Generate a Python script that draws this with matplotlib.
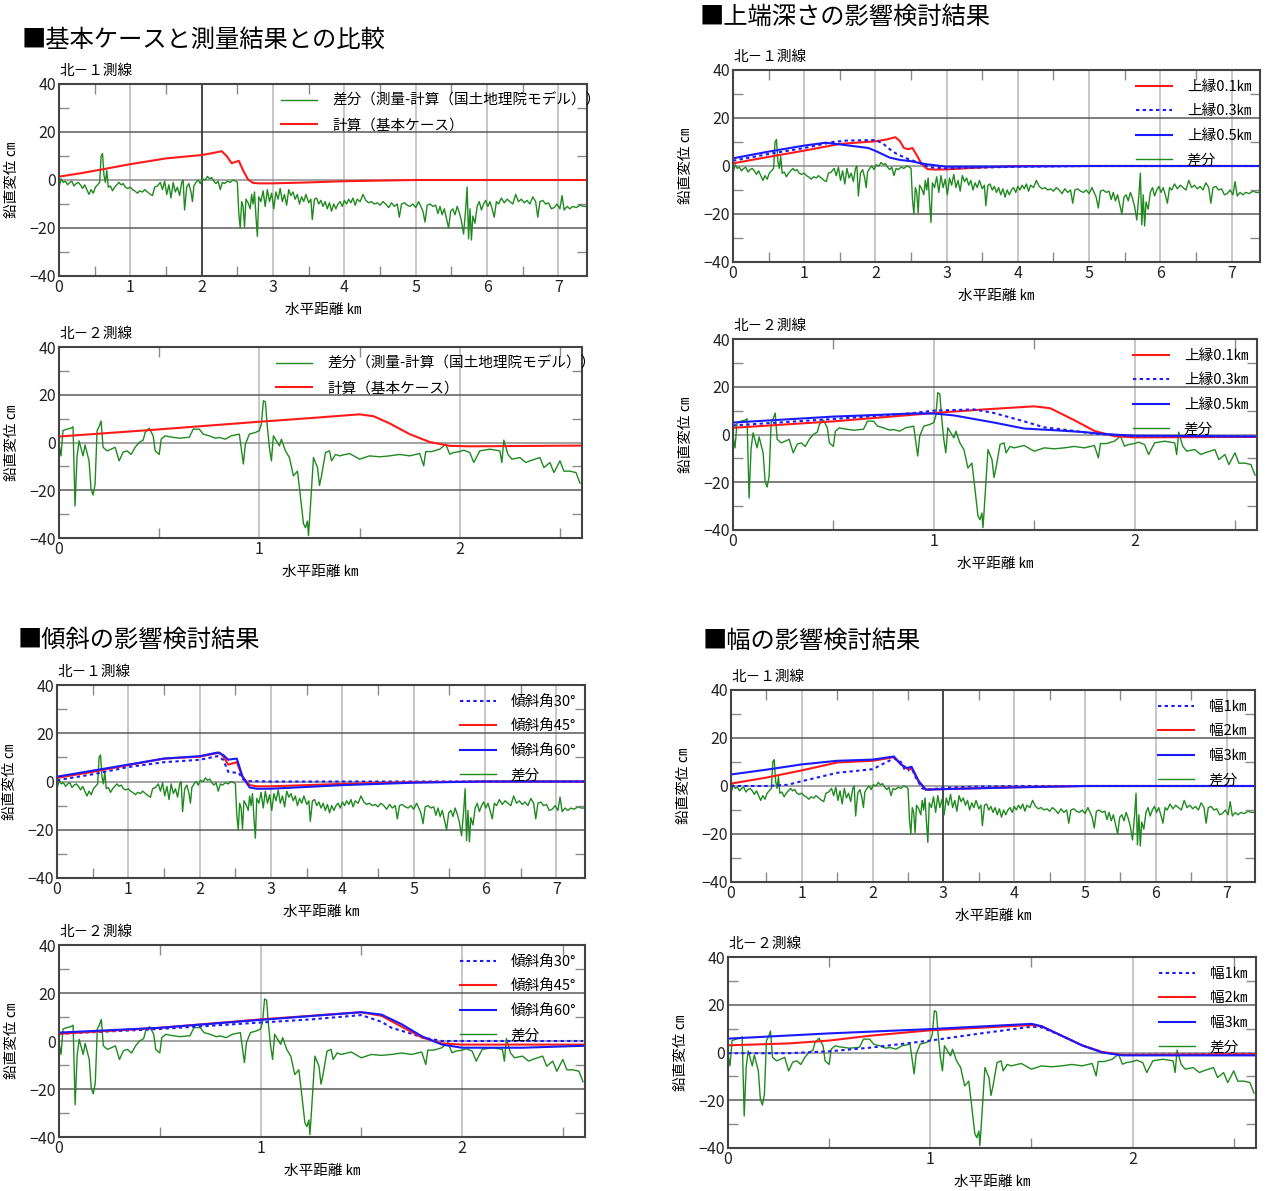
import numpy as np
import matplotlib
matplotlib.use("Agg")
import matplotlib.pyplot as plt

JP = ["Noto Sans CJK JP", "DejaVu Sans"]
plt.rcParams["font.family"] = JP

W, H = 1266, 1191

# ---------------- residual (survey - model), line N1 ----------------
N1_DIFF_KM = [0.00, 0.03, 0.06, 0.09, 0.12, 0.15, 0.18, 0.21, 0.24, 0.27, 0.30, 0.33, 0.36, 0.39, 0.42, 0.45,
              0.48, 0.51, 0.54, 0.57, 0.59, 0.61, 0.63, 0.65, 0.67, 0.69, 0.72, 0.75, 0.78, 0.81, 0.84, 0.87,
              0.90, 0.93, 0.96, 1.00, 1.03, 1.06, 1.10, 1.13, 1.17, 1.20, 1.24, 1.28, 1.31, 1.34, 1.38, 1.42,
              1.45, 1.48, 1.51, 1.54, 1.57, 1.60, 1.63, 1.66, 1.69, 1.72, 1.74, 1.76, 1.79, 1.82, 1.85, 1.87,
              1.89, 1.92, 1.95, 1.98, 2.01, 2.05, 2.08, 2.11, 2.14, 2.17, 2.20, 2.23, 2.26, 2.29, 2.32, 2.36,
              2.40, 2.44, 2.48, 2.50, 2.52, 2.54, 2.56, 2.58, 2.60, 2.62, 2.65, 2.68, 2.70, 2.72, 2.74, 2.76,
              2.78, 2.80, 2.83, 2.86, 2.89, 2.92, 2.95, 2.98, 3.01, 3.04, 3.07, 3.10, 3.13, 3.16, 3.19, 3.22,
              3.25, 3.28, 3.31, 3.34, 3.37, 3.40, 3.43, 3.46, 3.50, 3.53, 3.55, 3.58, 3.61, 3.64, 3.67, 3.70,
              3.73, 3.76, 3.79, 3.82, 3.85, 3.88, 3.91, 3.94, 3.97, 4.00, 4.03, 4.06, 4.09, 4.12, 4.15, 4.18,
              4.22, 4.26, 4.30, 4.34, 4.38, 4.42, 4.46, 4.50, 4.54, 4.58, 4.62, 4.66, 4.70, 4.74, 4.77, 4.80,
              4.84, 4.88, 4.92, 4.96, 5.00, 5.04, 5.07, 5.10, 5.13, 5.16, 5.20, 5.24, 5.28, 5.31, 5.34, 5.37,
              5.40, 5.43, 5.46, 5.49, 5.52, 5.55, 5.58, 5.61, 5.64, 5.67, 5.70, 5.72, 5.74, 5.76, 5.78, 5.80,
              5.83, 5.86, 5.89, 5.92, 5.95, 5.98, 6.01, 6.04, 6.07, 6.10, 6.13, 6.16, 6.20, 6.24, 6.28, 6.32,
              6.36, 6.40, 6.44, 6.48, 6.52, 6.56, 6.60, 6.64, 6.68, 6.71, 6.74, 6.78, 6.82, 6.86, 6.90, 6.94,
              6.98, 7.02, 7.05, 7.08, 7.12, 7.16, 7.20, 7.25, 7.30, 7.35, 7.40]
N1_DIFF_CM = [-3.0, 0.5, -1.0, -0.5, -2.0, -1.0, -0.5, -2.5, -1.5, -1.0, -2.0, -3.5, -2.0, -4.0, -6.0, -4.0,
              -5.5, -3.0, -2.0, -1.0, 10.0, 11.0, 2.0, -1.0, 4.0, -3.0, -2.5, -4.5, -3.0, -2.0, -1.0, -2.0,
              -1.5, -3.0, -3.5, -3.0, -4.0, -4.5, -5.5, -4.5, -5.0, -4.0, -5.0, -6.0, -6.5, -3.0, -2.5, -1.0,
              -4.0, -0.5, -6.0, -2.0, -7.5, -1.0, -5.0, -3.0, -6.5, -1.0, 0.0, -12.5, -3.0, -1.5, -5.0, -9.0,
              -2.5, -1.0, 0.0, -1.5, 0.5, 0.0, 1.5, 0.5, 1.0, -0.5, -1.5, -0.5, -4.0, -1.0, -1.5, -0.5,
              -1.0, 0.0, -0.5, -1.0, -14.0, -20.0, -9.0, -11.0, -19.5, -8.0, -9.5, -12.0, -6.0, -10.0, -5.0, -15.0,
              -23.5, -7.0, -9.0, -4.5, -11.0, -4.0, -9.0, -5.5, -12.0, -5.0, -8.0, -3.5, -9.0, -6.0, -10.5, -4.0,
              -6.5, -5.0, -8.0, -6.0, -10.0, -7.0, -9.0, -6.0, -9.5, -8.0, -16.5, -8.0, -7.5, -10.0, -8.5, -11.0,
              -9.0, -12.0, -9.5, -13.0, -10.0, -12.0, -10.0, -9.0, -11.0, -8.5, -10.0, -8.0, -9.5, -7.5, -10.5, -8.0,
              -9.0, -6.0, -8.5, -9.5, -9.0, -10.0, -9.5, -10.5, -9.0, -10.0, -11.5, -9.5, -11.0, -10.0, -15.5, -10.0,
              -9.5, -10.5, -11.0, -10.0, -11.5, -9.0, -11.0, -13.0, -17.5, -10.5, -10.0, -11.0, -10.5, -14.0, -11.0, -14.5,
              -12.0, -16.0, -20.0, -13.0, -12.0, -14.5, -11.0, -13.5, -17.0, -22.5, -12.0, -3.0, -24.5, -12.0, -25.0, -15.0,
              -18.0, -11.0, -9.0, -12.5, -10.0, -8.5, -11.0, -9.0, -12.0, -15.5, -9.0, -10.0, -7.5, -9.5, -8.0, -9.0,
              -10.0, -6.0, -9.0, -8.0, -9.5, -8.5, -10.0, -7.0, -9.0, -15.5, -9.0, -8.5, -10.0, -9.5, -12.0, -11.5,
              -10.0, -12.0, -6.5, -12.5, -11.0, -12.0, -11.0, -11.5, -10.5, -11.0, -11.0]

# ---------------- residual (survey - model), line N2 ----------------
N2_DIFF_KM = [0.00, 0.01, 0.02, 0.04, 0.06, 0.07, 0.08, 0.09, 0.10, 0.12, 0.13, 0.15, 0.16, 0.17, 0.18, 0.19,
              0.20, 0.21, 0.22, 0.24, 0.26, 0.28, 0.30, 0.32, 0.34, 0.36, 0.38, 0.40, 0.42, 0.43, 0.45, 0.47,
              0.48, 0.50, 0.51, 0.53, 0.55, 0.60, 0.65, 0.67, 0.70, 0.72, 0.75, 0.78, 0.80, 0.83, 0.86, 0.90,
              0.92, 0.93, 0.95, 0.98, 1.00, 1.01, 1.02, 1.03, 1.04, 1.05, 1.06, 1.07, 1.08, 1.10, 1.11, 1.13,
              1.15, 1.17, 1.19, 1.20, 1.22, 1.23, 1.24, 1.245, 1.25, 1.27, 1.29, 1.30, 1.31, 1.33, 1.35, 1.36,
              1.38, 1.40, 1.45, 1.50, 1.55, 1.60, 1.65, 1.70, 1.75, 1.80, 1.82, 1.83, 1.86, 1.90, 1.93, 1.95,
              1.97, 2.00, 2.02, 2.05, 2.07, 2.10, 2.15, 2.20, 2.21, 2.22, 2.24, 2.26, 2.30, 2.33, 2.35, 2.40,
              2.42, 2.45, 2.47, 2.50, 2.52, 2.55, 2.58, 2.60]
N2_DIFF_CM = [-0.7, -5.6, 5.0, 5.6, 6.0, 6.6, -26.6, -6.0, 0.7, -5.6, -1.0, -7.7, -19.6, -22.0, -17.5, 5.0,
              6.6, 9.0, -2.0, -3.5, -2.8, -2.0, -7.7, -4.0, -3.5, -5.0, -2.0, 0.0, 1.0, 4.2, 6.0, 2.8,
              -3.5, -5.0, 1.4, 2.8, 2.4, 1.8, 2.2, 5.6, 5.6, 3.5, 2.8, 1.8, 2.1, 1.4, 2.8, 3.5,
              -9.0, -0.7, 3.5, 4.2, 5.0, 7.7, 17.5, 17.0, 6.3, -2.0, -7.7, 2.8, 1.4, -1.4, 1.4, -3.5,
              -6.3, -14.0, -12.0, -19.0, -34.0, -35.7, -32.9, -39.0, -33.0, -6.3, -10.5, -18.0, -14.0, -4.2, -3.5, -7.7,
              -5.0, -5.6, -4.6, -7.0, -5.6, -6.0, -5.6, -5.0, -5.6, -4.6, -9.8, -3.8, -3.8, -2.8, -0.7, -4.9,
              -4.2, -3.8, -3.2, -4.2, -8.4, -3.5, -2.8, -3.5, -8.4, 1.0, -4.9, -7.0, -6.3, -8.4, -7.7, -6.3,
              -10.5, -8.4, -12.6, -7.7, -12.0, -12.0, -12.6, -17.0]

# ---------------- base case model ----------------
BASE_N1_KM = [0.0, 0.3, 0.6, 1.0, 1.5, 2.0, 2.15, 2.28, 2.35, 2.42, 2.47, 2.52, 2.58, 2.65, 2.72, 2.8, 3.0, 3.5, 4.0, 5.0, 7.4]
BASE_N1_CM = [1.4, 2.8, 4.4, 6.6, 9.0, 10.4, 11.2, 12.0, 10.0, 7.0, 7.5, 8.0, 4.0, 0.2, -1.2, -1.4, -1.4, -1.0, -0.5, 0.0, 0.0]
BASE_N2_KM = [0.0, 0.5, 1.0, 1.25, 1.5, 1.57, 1.65, 1.75, 1.85, 1.95, 2.05, 2.6]
BASE_N2_CM = [2.5, 5.5, 8.7, 10.2, 11.8, 11.0, 8.0, 3.5, 0.2, -1.4, -1.6, -1.3]

# ---------------- top-edge depth cases ----------------
DEPTH01_N1_KM = [0.0, 0.5, 1.0, 1.5, 2.0, 2.15, 2.28, 2.34, 2.40, 2.46, 2.52, 2.58, 2.65, 2.73, 2.85, 3.0, 3.5, 4.0, 7.4]
DEPTH01_N1_CM = [1.1, 3.8, 6.4, 9.2, 10.3, 11.0, 12.0, 10.5, 7.5, 7.0, 7.5, 4.5, 0.8, -1.3, -1.5, -1.4, -0.6, 0.0, 0.0]
DEPTH03_N1_KM = [0.0, 0.5, 1.0, 1.4, 1.6, 2.0, 2.1, 2.2, 2.3, 2.45, 2.6, 2.75, 3.0, 4.0, 5.0, 7.4]
DEPTH03_N1_CM = [2.2, 5.0, 7.5, 10.0, 10.6, 10.8, 9.5, 7.0, 5.0, 3.0, 1.5, -0.5, -1.0, -0.3, 0.0, 0.0]
DEPTH05_N1_KM = [0.0, 0.5, 1.0, 1.3, 1.5, 1.9, 2.0, 2.2, 2.35, 2.5, 2.7, 3.0, 4.0, 5.0, 7.4]
DEPTH05_N1_CM = [3.2, 6.0, 8.5, 9.7, 9.0, 7.5, 6.3, 3.5, 2.5, 2.0, 0.8, -0.3, -0.2, 0.0, 0.0]
DEPTH01_N2_KM = [0.0, 0.5, 1.0, 1.25, 1.5, 1.58, 1.7, 1.8, 1.9, 2.0, 2.6]
DEPTH01_N2_CM = [2.8, 5.5, 9.0, 10.5, 11.8, 11.0, 6.0, 1.5, -0.7, -1.2, -1.0]
DEPTH03_N2_KM = [0.0, 0.5, 0.9, 1.0, 1.2, 1.3, 1.45, 1.55, 1.7, 1.8, 2.0, 2.6]
DEPTH03_N2_CM = [3.8, 6.5, 9.0, 10.0, 10.5, 9.0, 5.5, 3.0, 1.5, 0.3, -0.7, -0.8]
DEPTH05_N2_KM = [0.0, 0.5, 0.9, 1.0, 1.1, 1.3, 1.45, 1.6, 1.75, 1.85, 2.0, 2.6]
DEPTH05_N2_CM = [5.0, 7.5, 8.8, 8.8, 8.0, 5.0, 2.5, 1.8, 1.0, 0.2, -0.5, -0.8]

# ---------------- dip angle cases ----------------
DIP30_N1_KM = [0.0, 0.5, 1.0, 1.5, 2.0, 2.25, 2.33, 2.40, 2.55, 2.60, 2.65, 3.0, 7.4]
DIP30_N1_CM = [0.5, 3.0, 6.0, 8.0, 9.0, 10.5, 9.0, 4.0, 3.5, 1.0, 0.2, 0.0, 0.0]
DIP45_N1_KM = [0.0, 0.5, 1.0, 1.5, 2.0, 2.28, 2.34, 2.40, 2.46, 2.52, 2.60, 2.70, 2.80, 3.0, 4.0, 5.0, 6.0, 7.4]
DIP45_N1_CM = [1.5, 4.0, 6.8, 9.5, 10.3, 12.0, 10.0, 7.0, 7.5, 8.0, 2.0, -1.5, -2.0, -2.0, -1.0, -0.3, 0.0, 0.0]
DIP60_N1_KM = [0.0, 0.5, 1.0, 1.5, 2.0, 2.25, 2.33, 2.40, 2.46, 2.52, 2.60, 2.70, 2.80, 3.0, 4.0, 5.0, 6.0, 7.4]
DIP60_N1_CM = [2.0, 4.5, 7.0, 9.5, 10.5, 12.0, 11.0, 9.0, 9.3, 9.5, 2.0, -2.5, -3.0, -3.0, -1.5, -0.5, 0.0, 0.0]
DIP30_N2_KM = [0.0, 0.5, 1.0, 1.25, 1.5, 1.6, 1.65, 1.75, 1.8, 1.9, 2.6]
DIP30_N2_CM = [3.0, 5.0, 7.7, 9.0, 10.8, 8.0, 5.5, 3.0, 1.5, 0.0, 0.0]
DIP45_N2_KM = [0.0, 0.5, 1.0, 1.5, 1.6, 1.7, 1.8, 1.9, 2.0, 2.6]
DIP45_N2_CM = [3.0, 5.5, 9.0, 12.0, 10.5, 6.0, 1.5, -1.0, -1.5, -1.5]
DIP60_N2_KM = [0.0, 0.5, 1.0, 1.5, 1.6, 1.7, 1.8, 1.9, 2.0, 2.3, 2.6]
DIP60_N2_CM = [3.5, 5.5, 8.8, 12.0, 11.0, 7.0, 2.0, -1.5, -2.8, -2.8, -2.0]

# ---------------- fault width cases ----------------
WID1_N1_KM = [0.0, 0.5, 0.8, 1.0, 1.5, 2.0, 2.2, 2.3, 2.4, 2.45, 2.5, 2.55, 2.6, 2.7, 2.8, 3.0, 3.5, 4.0, 7.4]
WID1_N1_CM = [0.0, 0.0, 0.5, 2.0, 5.5, 7.0, 10.0, 11.5, 10.0, 7.0, 6.5, 7.5, 4.0, -1.0, -1.5, -0.7, -0.2, 0.0, 0.0]
WID2_N1_KM = [0.0, 0.5, 1.0, 1.5, 2.0, 2.3, 2.4, 2.5, 2.55, 2.65, 2.75, 3.0, 4.0, 5.0, 7.4]
WID2_N1_CM = [1.0, 3.5, 6.5, 9.8, 10.5, 12.0, 9.0, 7.0, 7.5, 2.0, -1.5, -1.3, -0.5, 0.0, 0.0]
WID3_N1_KM = [0.0, 0.5, 1.0, 1.5, 2.0, 2.3, 2.4, 2.48, 2.55, 2.65, 2.75, 3.0, 4.0, 5.0, 7.4]
WID3_N1_CM = [4.8, 6.8, 9.0, 10.5, 11.0, 12.3, 9.0, 7.5, 8.0, 2.0, -1.5, -1.3, -0.6, 0.0, 0.0]
WID1_N2_KM = [0.0, 0.3, 0.5, 0.7, 1.0, 1.25, 1.5, 1.55, 1.65, 1.75, 1.85, 1.95, 2.6]
WID1_N2_CM = [-0.3, -0.3, 0.5, 2.0, 5.0, 8.0, 10.8, 10.5, 7.0, 3.0, 0.2, -1.0, -0.5]
WID2_N2_KM = [0.0, 0.3, 0.5, 0.7, 1.0, 1.5, 1.55, 1.65, 1.75, 1.85, 1.95, 2.6]
WID2_N2_CM = [3.0, 3.8, 5.0, 7.0, 9.3, 11.5, 11.0, 7.0, 3.0, 0.2, -1.0, -0.7]
WID3_N2_KM = [0.0, 0.5, 1.0, 1.5, 1.55, 1.65, 1.75, 1.85, 1.95, 2.6]
WID3_N2_CM = [5.8, 8.0, 9.8, 12.0, 11.0, 7.0, 3.0, 0.0, -1.2, -1.2]

LINE_NAMES = ["北－１測線", "北－２測線"]
SECTION_TITLES = ["■基本ケースと測量結果との比較", "■上端深さの影響検討結果", "■傾斜の影響検討結果", "■幅の影響検討結果"]
DIFF_LABEL_LONG = "差分（測量-計算（国土地理院モデル））"
DIFF_LABEL = "差分"
BASE_LABEL = "計算（基本ケース）"
DEPTH_LABELS = ["上縁0.1㎞", "上縁0.3㎞", "上縁0.5㎞"]
DIP_LABELS = ["傾斜角30°", "傾斜角45°", "傾斜角60°"]
WIDTH_LABELS = ["幅1㎞", "幅2㎞", "幅3㎞"]

RED = "#ff1a1a"
BLUE = "#1a1aff"
GREEN = "#1f8a1f"
DOT = (0, (1.6, 1.6))

fig = plt.figure(figsize=(W / 100, H / 100), dpi=100)


def make_axes(l, t, r, b):
    ax = fig.add_axes([l / W, 1 - b / H, (r - l) / W, (b - t) / H])
    return ax, (r - l), (b - t)


def style_axes(ax, wpx, hpx, xmax, caption, cursor=None):
    ax.set_xlim(0, xmax)
    ax.set_ylim(-40, 40)
    ax.set_xticks(range(int(xmax) + 1))
    ax.set_yticks([-40, -20, 0, 20, 40])
    ax.set_xticks(np.arange(0.5, xmax, 1.0), minor=True)
    ax.set_yticks([-30, -10, 10, 30], minor=True)
    ax.tick_params(which="major", length=0, labelsize=11.5, pad=2, colors="#222222")
    ax.tick_params(which="minor", direction="in", length=7, width=1.0, color="#8a8a8a",
                   top=True, right=True, bottom=True, left=True)
    for x in range(1, int(xmax) + 1):
        ax.axvline(x, color="#b8b8b8", lw=1.1, zorder=0)
    for y in (-20, 20):
        ax.axhline(y, color="#5a5a5a", lw=1.1, zorder=0)
    ax.axhline(0, color="#8a8a8a", lw=1.1, zorder=0)
    if cursor is not None:
        ax.axvline(cursor, color="#333333", lw=1.2, zorder=0)
    for s in ax.spines.values():
        s.set_color("#444444")
        s.set_linewidth(1.5)
    ax.set_xlabel("水平距離 ㎞", fontsize=10.5)
    ax.xaxis.set_label_coords(0.5, -27 / hpx)
    ax.set_ylabel("鉛直変位 ㎝", fontsize=10.5, va="center")
    ax.yaxis.set_label_coords(-47 / wpx, 0.5)
    ax.text(0.0, 1.03, caption, transform=ax.transAxes, fontsize=10.5, ha="left", va="bottom")


def legend(ax, handles, shift_px=0.0, wpx=1.0):
    ax.legend(handles=handles, loc="upper right", bbox_to_anchor=(1.0 + shift_px / wpx, 0.995),
              frameon=False, fontsize=10.5, handlelength=2.5, handletextpad=1.0, labelspacing=0.72,
              borderaxespad=0.2)


# section titles
fig.text(22 / W, 1 - 40 / H, SECTION_TITLES[0], fontsize=17.5, va="center", ha="left")
fig.text(700 / W, 1 - 17 / H, SECTION_TITLES[1], fontsize=17.5, va="center", ha="left")
fig.text(18 / W, 1 - 640 / H, SECTION_TITLES[2], fontsize=17.5, va="center", ha="left")
fig.text(703 / W, 1 - 641 / H, SECTION_TITLES[3], fontsize=17.5, va="center", ha="left")

# --- base case vs survey ---
ax, wpx, hpx = make_axes(59, 84, 587, 276)
style_axes(ax, wpx, hpx, 7.4, LINE_NAMES[0], cursor=2)
g, = ax.plot(N1_DIFF_KM, N1_DIFF_CM, color=GREEN, lw=1.0, label=DIFF_LABEL_LONG)
r, = ax.plot(BASE_N1_KM, BASE_N1_CM, color=RED, lw=1.5, label=BASE_LABEL)
legend(ax, [g, r], shift_px=22, wpx=wpx)

ax, wpx, hpx = make_axes(59, 347, 582, 538)
style_axes(ax, wpx, hpx, 2.61, LINE_NAMES[1])
g, = ax.plot(N2_DIFF_KM, N2_DIFF_CM, color=GREEN, lw=1.0, label=DIFF_LABEL_LONG)
r, = ax.plot(BASE_N2_KM, BASE_N2_CM, color=RED, lw=1.5, label=BASE_LABEL)
legend(ax, [g, r], shift_px=22, wpx=wpx)


def case_panel(box, xmax, caption, diff, cases, labels, styles, cursor=None):
    ax, wpx, hpx = make_axes(*box)
    style_axes(ax, wpx, hpx, xmax, caption, cursor=cursor)
    handles = []
    for (xs, ys), lab, (col, ls) in zip(cases, labels, styles):
        h, = ax.plot(xs, ys, color=col, ls=ls, lw=1.5, label=lab)
        handles.append(h)
    g, = ax.plot(diff[0], diff[1], color=GREEN, lw=1.0, label=DIFF_LABEL, zorder=1.5)
    handles.append(g)
    legend(ax, handles)


DEPTH_STYLES = [(RED, "-"), (BLUE, DOT), (BLUE, "-")]
DIP_STYLES = [(BLUE, DOT), (RED, "-"), (BLUE, "-")]
WIDTH_STYLES = [(BLUE, DOT), (RED, "-"), (BLUE, "-")]

case_panel((733, 70, 1260, 262), 7.4, LINE_NAMES[0], (N1_DIFF_KM, N1_DIFF_CM),
           [(DEPTH01_N1_KM, DEPTH01_N1_CM), (DEPTH03_N1_KM, DEPTH03_N1_CM), (DEPTH05_N1_KM, DEPTH05_N1_CM)],
           DEPTH_LABELS, DEPTH_STYLES)
case_panel((733, 339, 1257, 530), 2.61, LINE_NAMES[1], (N2_DIFF_KM, N2_DIFF_CM),
           [(DEPTH01_N2_KM, DEPTH01_N2_CM), (DEPTH03_N2_KM, DEPTH03_N2_CM), (DEPTH05_N2_KM, DEPTH05_N2_CM)],
           DEPTH_LABELS, DEPTH_STYLES)
case_panel((57, 685, 585, 878), 7.4, LINE_NAMES[0], (N1_DIFF_KM, N1_DIFF_CM),
           [(DIP30_N1_KM, DIP30_N1_CM), (DIP45_N1_KM, DIP45_N1_CM), (DIP60_N1_KM, DIP60_N1_CM)],
           DIP_LABELS, DIP_STYLES)
case_panel((59, 945, 585, 1137), 2.61, LINE_NAMES[1], (N2_DIFF_KM, N2_DIFF_CM),
           [(DIP30_N2_KM, DIP30_N2_CM), (DIP45_N2_KM, DIP45_N2_CM), (DIP60_N2_KM, DIP60_N2_CM)],
           DIP_LABELS, DIP_STYLES)
case_panel((731, 690, 1255, 882), 7.4, LINE_NAMES[0], (N1_DIFF_KM, N1_DIFF_CM),
           [(WID1_N1_KM, WID1_N1_CM), (WID2_N1_KM, WID2_N1_CM), (WID3_N1_KM, WID3_N1_CM)],
           WIDTH_LABELS, WIDTH_STYLES, cursor=3)
case_panel((728, 957, 1256, 1148), 2.61, LINE_NAMES[1], (N2_DIFF_KM, N2_DIFF_CM),
           [(WID1_N2_KM, WID1_N2_CM), (WID2_N2_KM, WID2_N2_CM), (WID3_N2_KM, WID3_N2_CM)],
           WIDTH_LABELS, WIDTH_STYLES)

fig.savefig("out.png", dpi=100, facecolor="white")
